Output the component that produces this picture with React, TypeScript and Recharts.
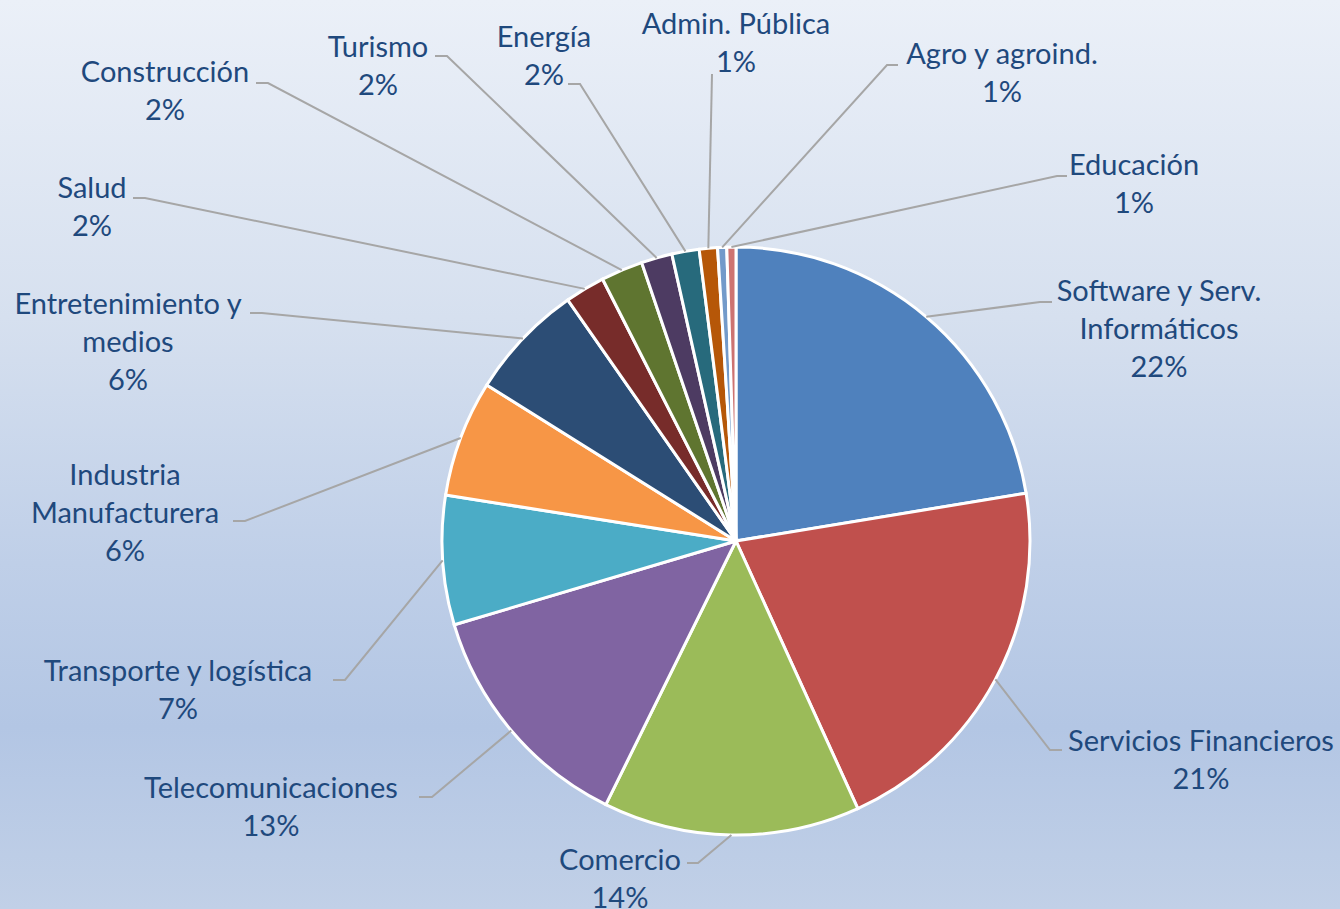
import { Cell, Pie, PieChart } from "recharts";

const sectors = [
  "Software y Serv. Informáticos",
  "Servicios Financieros",
  "Comercio",
  "Telecomunicaciones",
  "Transporte y logística",
  "Industria Manufacturera",
  "Entretenimiento y medios",
  "Salud",
  "Construcción",
  "Turismo",
  "Energía",
  "Admin. Pública",
  "Agro y agroind.",
  "Educación",
];

// share of companies, percent
const shares = [22.4, 20.8, 14.1, 13.1, 7.1, 6.4, 6.4, 2.2, 2.3, 1.7, 1.5, 1.0, 0.5, 0.5];

// how each label is wrapped in the picture
const labelLines = [
  ["Software y Serv.", "Informáticos"],
  ["Servicios Financieros"],
  ["Comercio"],
  ["Telecomunicaciones"],
  ["Transporte y logística"],
  ["Industria", "Manufacturera"],
  ["Entretenimiento y", "medios"],
  ["Salud"],
  ["Construcción"],
  ["Turismo"],
  ["Energía"],
  ["Admin. Pública"],
  ["Agro y agroind."],
  ["Educación"],
];

const colors = [
  "#4F81BD", "#C0504D", "#9BBB59", "#8064A2", "#4BACC6", "#F79646", "#2C4D75",
  "#772C2A", "#5F7530", "#4D3B62", "#276A7C", "#B65708", "#729ACA", "#CD7371",
];

// label placement: text centre x, first baseline y, leader bend and end
const labelLayout = [
  { tx: 1159, ty: 301, bx: 1040, by: 302, ex: 1052 },
  { tx: 1201, ty: 751, bx: 1050, by: 750, ex: 1062 },
  { tx: 620, ty: 870, bx: 698, by: 863, ex: 687 },
  { tx: 271, ty: 798, bx: 432, by: 797, ex: 419 },
  { tx: 178, ty: 681, bx: 345, by: 680, ex: 333 },
  { tx: 125, ty: 485, bx: 245, by: 521, ex: 233 },
  { tx: 128, ty: 314, bx: 262, by: 313, ex: 250 },
  { tx: 92, ty: 198, bx: 145, by: 198, ex: 133 },
  { tx: 165, ty: 82, bx: 268, by: 83, ex: 256 },
  { tx: 378, ty: 57, bx: 447, by: 56, ex: 435 },
  { tx: 544, ty: 47, bx: 580, by: 84, ex: 568 },
  { tx: 736, ty: 34, bx: 712, by: 74, ex: 712 },
  { tx: 1002, ty: 64, bx: 887, by: 65, ex: 898 },
  { tx: 1134, ty: 175, bx: 1057, by: 176, ex: 1067 },
];

const data = sectors.map((name, i) => ({ name, value: shares[i] }));

const RAD = Math.PI / 180;
const LINE_H = 38;

function renderLabel(props: any) {
  const { cx, cy, midAngle, outerRadius, index, percent } = props;
  const l = labelLayout[index];
  const sx = cx + outerRadius * Math.cos(-midAngle * RAD);
  const sy = cy + outerRadius * Math.sin(-midAngle * RAD);
  const lines = [...labelLines[index], `${Math.round(percent * 100 + 1e-6)}%`];
  return (
    <g key={`lbl-${index}`}>
      <polyline
        points={`${sx},${sy} ${l.bx},${l.by} ${l.ex},${l.by}`}
        fill="none"
        stroke="#A6A6A6"
        strokeWidth={2}
      />
      <text
        x={l.tx}
        y={l.ty}
        textAnchor="middle"
        fill="#1F497D"
        style={{ fontFamily: "Lato", fontSize: 29 }}
      >
        {lines.map((t, k) => (
          <tspan key={k} x={l.tx} y={l.ty + k * LINE_H}>
            {t}
          </tspan>
        ))}
      </text>
    </g>
  );
}

export default function App() {
  return (
    <div
      style={{
        position: "absolute",
        left: 0,
        top: 0,
        width: 1340,
        height: 909,
        background:
          "linear-gradient(180deg, #EBF0F8 0%, #D6E0EF 35%, #BFCFE8 62%, #B3C6E4 80%, #C1D0E7 100%)",
      }}
    >
      <PieChart width={1340} height={909} margin={{ top: 0, right: 0, bottom: 0, left: 0 }}>
        <Pie
          data={data}
          dataKey="value"
          nameKey="name"
          cx={736}
          cy={541}
          outerRadius={294}
          startAngle={90}
          endAngle={-270}
          stroke="#FFFFFF"
          strokeWidth={3}
          label={renderLabel}
          labelLine={false}
          isAnimationActive={false}
        >
          {data.map((d, i) => (
            <Cell key={d.name} fill={colors[i]} />
          ))}
        </Pie>
      </PieChart>
    </div>
  );
}
